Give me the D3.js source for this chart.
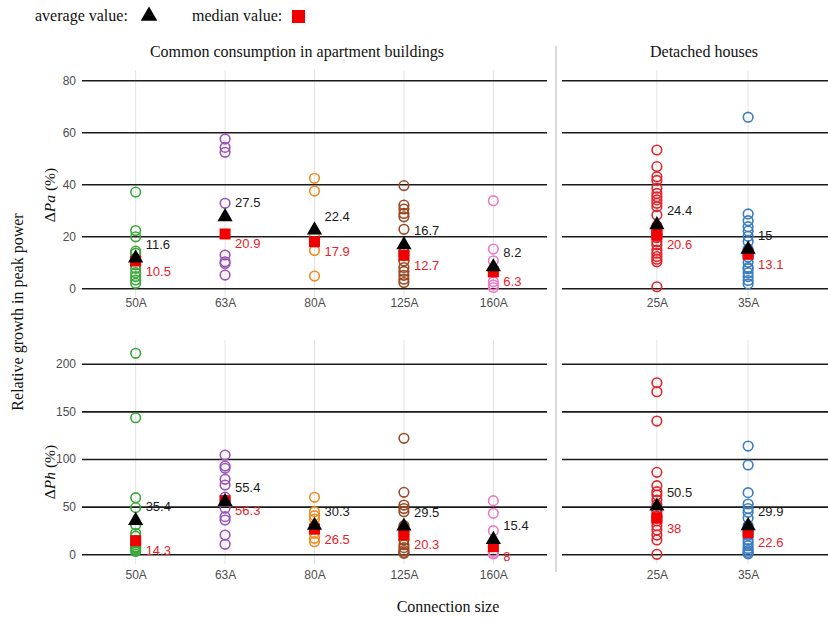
<!DOCTYPE html>
<html>
<head>
<meta charset="utf-8">
<script src="https://cdn.jsdelivr.net/npm/d3@7"></script>
<style>
  html, body { margin: 0; padding: 0; background: #fff; }
  svg { display: block; }
  .serif { font-family: "Liberation Serif", "Times New Roman", serif; fill: #111; }
  .sans { font-family: "Liberation Sans", Arial, sans-serif; }
</style>
</head>
<body>
<svg id="chart" width="828" height="618"></svg>
<script>
// Connection-size groups
const aptCategories = ["50A", "63A", "80A", "125A", "160A"];
const houseCategories = ["25A", "35A"];

// ΔPa (%) — individual sites per connection size
const pa50A  = [37, 22.2, 19.8, 14.3, 13.5, 11, 9, 7.7, 6, 4.5, 3.2, 1.9];
const pa63A  = [57.4, 54.2, 52.3, 32.7, 12.8, 10.2, 9.5, 5.1];
const pa80A  = [42.3, 37.4, 20, 17.9, 14.5, 4.7];
const pa125A = [39.5, 32, 30.5, 28.8, 27.5, 22.7, 14, 12.7, 10.5, 8, 6.5, 5, 3.5, 2.2];
const pa160A = [33.7, 15.1, 10.6, 6.3, 2.5, 1.3, 0.3];
const pa25A  = [53.2, 46.8, 42.9, 41.5, 38.5, 36.5, 35.2, 34, 32.7, 31.4, 28.2, 24, 22, 21, 20.6, 20, 19.5, 17.9, 16.7, 14.7, 13.5, 12.2, 11.2, 10.2, 0.6];
const pa35A  = [65.8, 28.6, 26, 23.7, 22, 20, 18, 15, 13.1, 12, 10, 8, 7.5, 6, 4.5, 3, 1.7];

// ΔPh (%) — individual sites per connection size
const ph50A  = [210.9, 143.3, 59.4, 49, 30.7, 22, 19, 14.3, 12, 10, 8, 7, 6, 4.5, 3];
const ph63A  = [104.2, 92.6, 90.2, 78.7, 72.7, 60, 56.3, 48.3, 39.5, 36, 20.2, 10.5];
const ph80A  = [59.8, 44.7, 40.5, 37, 30, 26.5, 22, 16.8, 13.2];
const ph125A = [121.7, 65, 51.7, 48, 44.7, 30, 24, 20.3, 15, 10, 7, 4, 2, 1];
const ph160A = [56.3, 43, 24.8, 8, 3, 1, 0.3];
const ph25A  = [180, 170.6, 139.8, 86, 72, 65.7, 62.2, 57, 52, 48, 45, 40, 38, 35, 30, 25.5, 20.2, 15, 0];
const ph35A  = [113.6, 93.7, 64.7, 52.8, 48, 44, 38, 30, 25, 22.6, 20, 15, 12, 9, 6, 4, 2, 0.5];

// Summary statistics shown as markers and labels
const paMeanApt = [11.6, 27.5, 22.4, 16.7, 8.2];
const paMedianApt = [10.5, 20.9, 17.9, 12.7, 6.3];
const paMeanHouse = [24.4, 15];
const paMedianHouse = [20.6, 13.1];
const phMeanApt = [35.4, 55.4, 30.3, 29.5, 15.4];
const phMedianApt = [14.3, 56.3, 26.5, 20.3, 8];
const phMeanHouse = [50.5, 29.9];
const phMedianHouse = [38, 22.6];

// Axis ticks
const paTicks = [0, 20, 40, 60, 80];
const phTicks = [0, 50, 100, 150, 200];

const colorByCategory = {
  "50A": "#3aa83a", "63A": "#9b52b8", "80A": "#f28a1e", "125A": "#9a4a22",
  "160A": "#ee7ac5", "25A": "#e3242b", "35A": "#3b7cc0"
};

const svg = d3.select("#chart");

// Layout
const xApt = d3.scalePoint().domain(aptCategories).range([82, 547]).padding(0.6);
const xHouse = d3.scalePoint().domain(houseCategories).range([562, 843]).padding(1.04);
const yPa = d3.scaleLinear().domain([0, 80]).range([288.3, 80.3]);
const yPh = d3.scaleLinear().domain([0, 200]).range([554.3, 363.7]);

function drawPanel(opts) {
  const { x, y, cats, points, means, medians, ticks, top, bottom, axisY, showYLabels, x0, x1 } = opts;
  const g = svg.append("g");

  // light vertical guide at each category
  g.selectAll("line.vgrid").data(cats).join("line")
    .attr("x1", d => x(d)).attr("x2", d => x(d))
    .attr("y1", top).attr("y2", bottom)
    .attr("stroke", "#e3e3e3").attr("stroke-width", 1);

  // horizontal gridlines + tick labels
  const ax = d3.axisLeft(y).tickValues(ticks).tickSize(-(x1 - x0)).tickPadding(6);
  const axG = g.append("g").attr("transform", `translate(${x0},0)`).call(ax);
  axG.select(".domain").remove();
  axG.selectAll(".tick line").attr("stroke", "#1a1a1a").attr("stroke-width", 1.6);
  axG.selectAll(".tick text")
    .attr("class", "sans").attr("font-size", 12).attr("fill", "#4d4d4d")
    .style("display", showYLabels ? null : "none");

  // category tick labels
  const xa = d3.axisBottom(x).tickSize(0).tickPadding(3);
  const xG = g.append("g").attr("transform", `translate(0,${axisY})`).call(xa);
  xG.select(".domain").remove();
  xG.selectAll(".tick text").attr("class", "sans").attr("font-size", 12).attr("fill", "#4d4d4d");

  // individual observations
  cats.forEach((c, i) => {
    g.append("g").selectAll("circle").data(points[i]).join("circle")
      .attr("cx", x(c)).attr("cy", d => y(d)).attr("r", 4.8)
      .attr("fill", "none").attr("stroke", colorByCategory[c]).attr("stroke-width", 1.6);
  });

  // median squares
  g.selectAll("rect.med").data(cats).join("rect")
    .attr("x", d => x(d) - 5.5).attr("y", (d, i) => y(medians[i]) - 5.5)
    .attr("width", 11).attr("height", 11).attr("fill", "#f00000");

  // mean triangles
  const tri = d3.symbol(d3.symbolTriangle).size(100);
  g.selectAll("path.mean").data(cats).join("path")
    .attr("d", tri)
    .attr("transform", (d, i) => `translate(${x(d)},${y(means[i])})`)
    .attr("fill", "#000");

  // labels
  g.selectAll("text.meanlab").data(cats).join("text")
    .attr("class", "sans").attr("font-size", 13).attr("fill", "#1a1a1a")
    .attr("x", d => x(d) + 10).attr("y", (d, i) => y(means[i]) - 9.5)
    .text((d, i) => means[i]);
  g.selectAll("text.medlab").data(cats).join("text")
    .attr("class", "sans").attr("font-size", 13).attr("fill", "#e8202a")
    .attr("x", d => x(d) + 10).attr("y", (d, i) => y(medians[i]) + 14.5)
    .text((d, i) => medians[i]);
}

drawPanel({ x: xApt, y: yPa, cats: aptCategories,
  points: [pa50A, pa63A, pa80A, pa125A, pa160A],
  means: paMeanApt, medians: paMedianApt, ticks: paTicks,
  top: 70, bottom: 297, axisY: 295, showYLabels: true, x0: 82, x1: 547 });
drawPanel({ x: xHouse, y: yPa, cats: houseCategories,
  points: [pa25A, pa35A],
  means: paMeanHouse, medians: paMedianHouse, ticks: paTicks,
  top: 70, bottom: 297, axisY: 295, showYLabels: false, x0: 562, x1: 843 });
drawPanel({ x: xApt, y: yPh, cats: aptCategories,
  points: [ph50A, ph63A, ph80A, ph125A, ph160A],
  means: phMeanApt, medians: phMedianApt, ticks: phTicks,
  top: 340, bottom: 564, axisY: 567, showYLabels: true, x0: 82, x1: 547 });
drawPanel({ x: xHouse, y: yPh, cats: houseCategories,
  points: [ph25A, ph35A],
  means: phMeanHouse, medians: phMedianHouse, ticks: phTicks,
  top: 340, bottom: 564, axisY: 567, showYLabels: false, x0: 562, x1: 843 });

// divider between building types
svg.append("line").attr("x1", 556).attr("x2", 556).attr("y1", 46).attr("y2", 572)
  .attr("stroke", "#b5b5b5").attr("stroke-width", 1);

// panel titles
svg.append("text").attr("class", "serif").attr("font-size", 16)
  .attr("x", 297).attr("y", 57).attr("text-anchor", "middle")
  .text("Common consumption in apartment buildings");
svg.append("text").attr("class", "serif").attr("font-size", 16)
  .attr("x", 704).attr("y", 57).attr("text-anchor", "middle")
  .text("Detached houses");

// axis titles
svg.append("text").attr("class", "serif").attr("font-size", 16)
  .attr("transform", "translate(23,312) rotate(-90)").attr("text-anchor", "middle")
  .text("Relative growth in peak power");

function deltaLabel(cx, cy, sub) {
  const t = svg.append("text").attr("class", "serif").attr("font-size", 15.5)
    .attr("transform", `translate(${cx},${cy}) rotate(-90)`).attr("text-anchor", "middle");
  t.append("tspan").text("Δ");
  t.append("tspan").attr("font-style", "italic").text("P" + sub);
  t.append("tspan").text(" (%)");
}
deltaLabel(55, 195, "a");
deltaLabel(55, 472, "h");

svg.append("text").attr("class", "serif").attr("font-size", 16)
  .attr("x", 448).attr("y", 612).attr("text-anchor", "middle")
  .text("Connection size");

// legend
svg.append("text").attr("class", "serif").attr("font-size", 16)
  .attr("x", 35).attr("y", 21).text("average value:");
svg.append("path").attr("d", d3.symbol(d3.symbolTriangle).size(120)())
  .attr("transform", "translate(149,16)").attr("fill", "#000");
svg.append("text").attr("class", "serif").attr("font-size", 16)
  .attr("x", 192).attr("y", 21).text("median value:");
svg.append("rect").attr("x", 292).attr("y", 10).attr("width", 13).attr("height", 13).attr("fill", "#f00000");
</script>
</body>
</html>
